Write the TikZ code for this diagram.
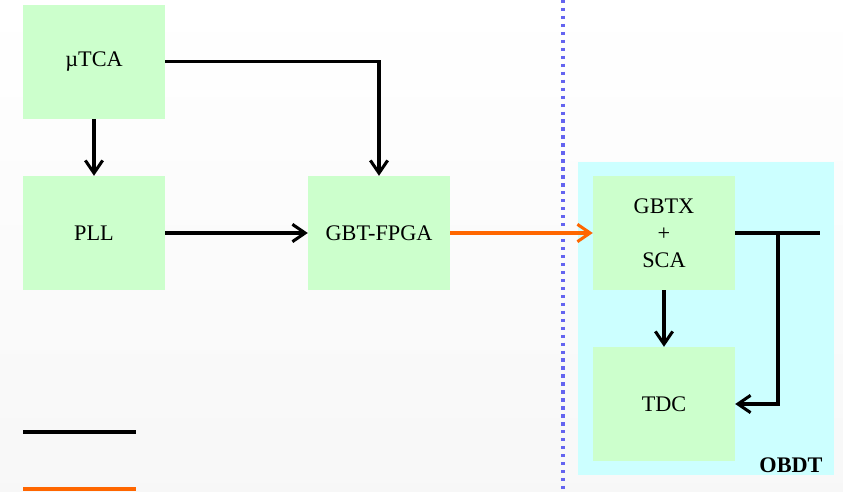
\documentclass[tikz,border=0pt]{standalone}
\usepackage{fontspec}
\setmainfont{Liberation Serif}
\usepackage{tikz}
\usetikzlibrary{positioning,arrows.meta}
\usepackage{xcolor}
\definecolor{boxgreen}{HTML}{CCFFCC}
\definecolor{boardcyan}{HTML}{CCFFFF}
\definecolor{linkorange}{HTML}{FF6600}
\definecolor{splitblue}{HTML}{6464F0}

\begin{document}
\begin{tikzpicture}[
  box/.style={rectangle, fill=boxgreen, minimum width=4.26cm, minimum height=3.42cm, text centered, align=center, font=\fontsize{19}{23}\selectfont},
  arrow/.style={-{Straight Barb[length=3.8mm, width=5.2mm, line width=2.6pt]}, line width=2.6pt},
  optic/.style={arrow, linkorange}
]
\useasboundingbox (0,0) rectangle (25.29,-14.76);
\fill[top color=white, bottom color=black!3] (0,0) rectangle (25.29,-14.76);

\fill[boardcyan] (17.34,-4.86) rectangle (25.02,-14.25);
\node[font=\fontsize{19}{23}\selectfont\bfseries, anchor=south east] (obdt) at (24.8,-14.3) {OBDT};

\draw[splitblue, line width=3pt, dash pattern=on 2.8pt off 4pt] (16.89,0) -- (16.89,-14.76);

\node[box] (mutca) at (2.82,-1.85) {µTCA};
\node[box] (pll) at (2.82,-6.99) {PLL};
\node[box] (gbtfpga) at (11.37,-6.99) {GBT-FPGA};
\node[box] (gbtx) at (19.92,-6.99) {GBTX\\+\\SCA};
\node[box] (tdc) at (19.92,-12.12) {TDC};

\coordinate (out) at (24.6,-6.99);
\coordinate (split) at (23.34,-6.99);

\draw[arrow] (mutca) -- (pll);
\draw[arrow] (mutca.east) -| (gbtfpga.north);
\draw[arrow] (pll) -- (gbtfpga);
\draw[optic] (gbtfpga) -- (gbtx);
\draw[arrow] (gbtx) -- (tdc);
\draw[line width=2.6pt] (gbtx.east) -- (out);
\draw[arrow] (split) |- (tdc.east);

\coordinate (legA) at (0.69,-12.96);
\coordinate (legB) at (4.08,-12.96);
\coordinate (legC) at (0.69,-14.67);
\coordinate (legD) at (4.08,-14.67);
\draw[line width=3.2pt] (legA) -- (legB);
\draw[line width=3.2pt, linkorange] (legC) -- (legD);
\end{tikzpicture}
\end{document}
